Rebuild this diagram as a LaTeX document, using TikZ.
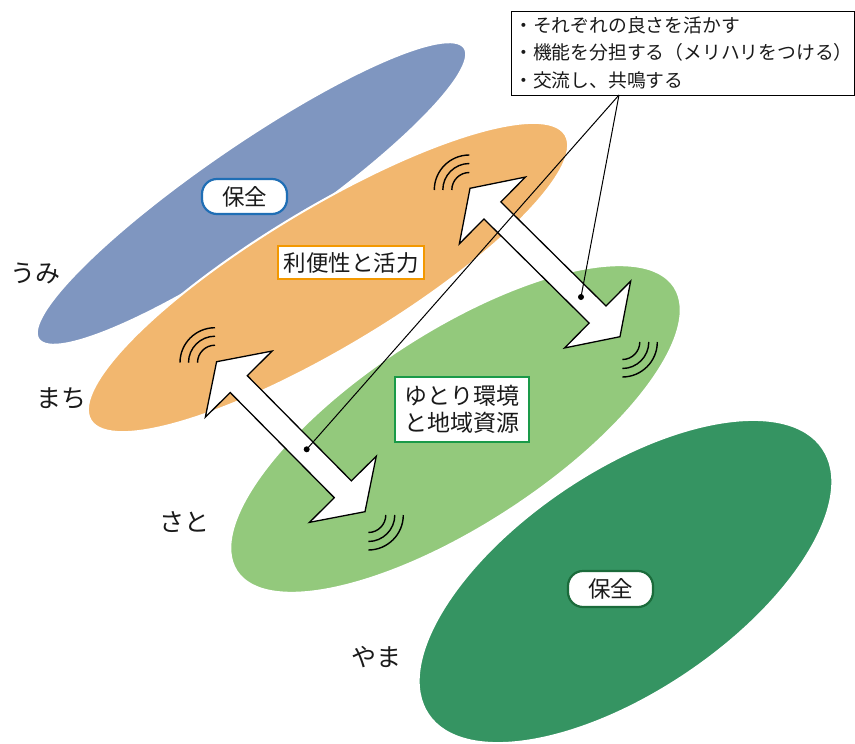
\documentclass[tikz,border=0pt]{standalone}
\usepackage{fontspec}
\setmainfont{Noto Sans CJK JP}
\definecolor{umiC}{HTML}{7F96C0}
\definecolor{machiC}{HTML}{F2B76F}
\definecolor{satoC}{HTML}{93C97C}
\definecolor{yamaC}{HTML}{359462}
\definecolor{umiB}{HTML}{1F6EB5}
\definecolor{machiB}{HTML}{F39800}
\definecolor{satoB}{HTML}{1A9A48}
\definecolor{yamaB}{HTML}{1B6B3B}
\definecolor{txt}{HTML}{1A1A1A}
\tikzset{
  region/.style={draw=white, line width=2pt},
  area/.style={text=txt, font=\fontsize{25}{29}\selectfont, inner sep=0pt},
  tag/.style={fill=white, text=txt, line width=2.2pt, inner sep=0pt, font=\fontsize{22.5}{26}\selectfont},
  pill/.style={tag, rounded corners=15pt},
  note/.style={text=txt, anchor=west, inner sep=0pt, font=\fontsize{18.8}{22}\selectfont},
  arrowbody/.style={draw=black, fill=white, line width=1.3pt, line join=miter},
  wave/.style={draw=black, line width=1.4pt},
  leader/.style={draw=black, line width=1pt},
  barrow/.pic={\path[arrowbody] (105.5,0) -- (74,47) -- (74,12) -- (-74,12) -- (-74,47) -- (-105.5,0) -- (-74,-47) -- (-74,-12) -- (74,-12) -- (74,-47) -- cycle;}
}
\begin{document}
\begin{tikzpicture}[x=1pt,y=-1pt]
\useasboundingbox (0,0) rectangle (855,744);
% regions
\path[region, fill=umiC, rotate around={34.4:(251.5,193.5)}] (251.5,193.5) ellipse [x radius=258pt, y radius=49pt];
\path[region, fill=machiC, rotate around={31:(328,277.5)}] (328,277.5) ellipse [x radius=277pt, y radius=69.5pt];
\path[region, fill=satoC, rotate around={33:(455.5,429)}] (455.5,429) ellipse [x radius=261pt, y radius=97pt];
\path[region, fill=yamaC, rotate around={34:(625.5,581.5)}] (625.5,581.5) ellipse [x radius=238pt, y radius=110.5pt];
% area labels
\node[area] (umi) at (35.5,273.5) {うみ};
\node[area] (machi) at (61,398) {まち};
\node[area] (sato) at (184,522) {さと};
\node[area] (yama) at (376,657) {やま};
% tags
\node[pill, draw=umiB, minimum width=85pt, minimum height=35pt] (hozen1) at (244.5,196.5) {保全};
\node[tag, draw=machiB, minimum width=146pt, minimum height=33pt] (ribensei) at (351,262.5) {利便性と活力};
\node[tag, draw=satoB, minimum width=134pt, minimum height=65pt, align=center, font=\fontsize{23}{27}\selectfont] (yutori) at (462,409.5) {ゆとり環境\\と地域資源};
\node[pill, draw=yamaB, minimum width=85pt, minimum height=36pt] (hozen2) at (610.5,589) {保全};
% block arrows
\pic[rotate=-45.3] at (290.8,436.7) {barrow};
\pic[rotate=-44.7] at (545,262.5) {barrow};
% waves
\foreach \cx/\cy in {215/362.7, 469.3/190}{
  \foreach \r in {35,26.5,17.5}{
    \draw[wave] ([shift={(180:\r pt)}]\cx,\cy) arc[start angle=180,end angle=90,radius=\r pt];
  }
}
\foreach \cx/\cy in {368.3/515, 622.3/342}{
  \foreach \r in {35,26.5,17.5}{
    \draw[wave] ([shift={(0:\r pt)}]\cx,\cy) arc[start angle=0,end angle=-90,radius=\r pt];
  }
}
% callout
\node[draw=black, line width=1.3pt, fill=white, minimum width=343pt, minimum height=84pt, anchor=north west, inner sep=0pt] (callout) at (510.5,11) {};
\node[note] (n1) at (514,25) {・それぞれの良さを活かす};
\node[note] (n2) at (514,52.5) {・機能を分担する（メリハリをつける）};
\node[note] (n3) at (514,80) {・交流し、共鳴する};
\coordinate (cs) at (619,95);
\coordinate (dl) at (306.7,449.3);
\coordinate (dr) at (581,297);
\draw[leader] (cs) -- (dl);
\draw[leader] (cs) -- (dr);
\fill (dl) circle (3pt);
\fill (dr) circle (3pt);
\end{tikzpicture}
\end{document}
